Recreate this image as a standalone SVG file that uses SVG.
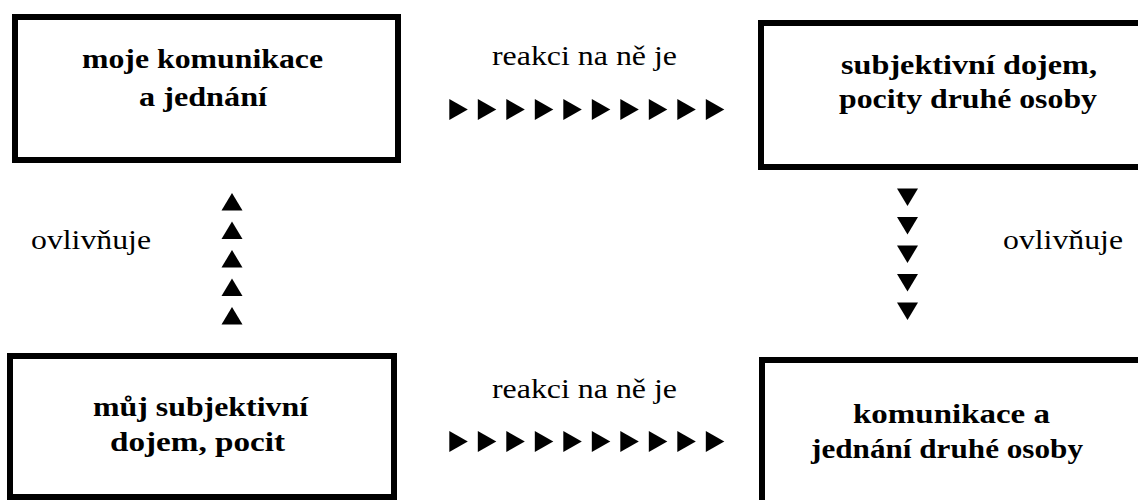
<svg xmlns="http://www.w3.org/2000/svg" xmlns:xlink="http://www.w3.org/1999/xlink" width="1138" height="500" viewBox="0 0 1138 500">
<style>
.box{fill:#fff;stroke:#000;stroke-width:6}
.t{font-family:"Liberation Serif","Times New Roman",serif;font-size:28px;font-weight:bold;fill:#000}
.l{font-family:"Liberation Serif","Times New Roman",serif;font-size:28px;fill:#000}
.tri{fill:#000}
</style>
<defs>
<path id="ar" d="M0,-10.5 L18.5,0 L0,10.5 Z"/>
<path id="au" d="M-10.5,0 L0,-17.5 L10.5,0 Z"/>
<path id="ad" d="M-10.5,0 L0,17.5 L10.5,0 Z"/>
</defs>
<rect width="1138" height="500" fill="#fff"/>
<g id="node-moje">
<rect class="box" x="15" y="17" width="383" height="143"/>
<text class="t" x="82" y="68" textLength="241" lengthAdjust="spacingAndGlyphs">moje komunikace</text>
<text class="t" x="139" y="106" textLength="128" lengthAdjust="spacingAndGlyphs">a jednání</text>
</g>
<g id="node-subjektivni">
<rect class="box" x="761" y="23" width="400" height="144"/>
<text class="t" x="841" y="74" textLength="256" lengthAdjust="spacingAndGlyphs">subjektivní dojem,</text>
<text class="t" x="839" y="108" textLength="258" lengthAdjust="spacingAndGlyphs">pocity druhé osoby</text>
</g>
<g id="node-muj">
<rect class="box" x="10" y="356" width="384" height="141"/>
<text class="t" x="93" y="416" textLength="215" lengthAdjust="spacingAndGlyphs">můj subjektivní</text>
<text class="t" x="110" y="451" textLength="175" lengthAdjust="spacingAndGlyphs">dojem, pocit</text>
</g>
<g id="node-komunikace">
<rect class="box" x="762" y="360" width="400" height="200"/>
<text class="t" x="853" y="423" textLength="197" lengthAdjust="spacingAndGlyphs">komunikace a</text>
<text class="t" x="811" y="458" textLength="272" lengthAdjust="spacingAndGlyphs">jednání druhé osoby</text>
</g>
<g id="connectors">
<g id="top-arrows" class="tri">
<use xlink:href="#ar" x="449.3" y="109.5"/>
<use xlink:href="#ar" x="477.8" y="109.5"/>
<use xlink:href="#ar" x="506.3" y="109.5"/>
<use xlink:href="#ar" x="534.8" y="109.5"/>
<use xlink:href="#ar" x="563.3" y="109.5"/>
<use xlink:href="#ar" x="591.8" y="109.5"/>
<use xlink:href="#ar" x="620.3" y="109.5"/>
<use xlink:href="#ar" x="648.8" y="109.5"/>
<use xlink:href="#ar" x="677.3" y="109.5"/>
<use xlink:href="#ar" x="705.8" y="109.5"/>
</g>
<text class="l" x="492" y="65" textLength="185" lengthAdjust="spacingAndGlyphs">reakci na ně je</text>
<g id="bottom-arrows" class="tri">
<use xlink:href="#ar" x="449.3" y="441.5"/>
<use xlink:href="#ar" x="477.8" y="441.5"/>
<use xlink:href="#ar" x="506.3" y="441.5"/>
<use xlink:href="#ar" x="534.8" y="441.5"/>
<use xlink:href="#ar" x="563.3" y="441.5"/>
<use xlink:href="#ar" x="591.8" y="441.5"/>
<use xlink:href="#ar" x="620.3" y="441.5"/>
<use xlink:href="#ar" x="648.8" y="441.5"/>
<use xlink:href="#ar" x="677.3" y="441.5"/>
<use xlink:href="#ar" x="705.8" y="441.5"/>
</g>
<text class="l" x="492" y="398" textLength="185" lengthAdjust="spacingAndGlyphs">reakci na ně je</text>
<g id="up-arrows" class="tri">
<use xlink:href="#au" x="232" y="210.5"/>
<use xlink:href="#au" x="232" y="239"/>
<use xlink:href="#au" x="232" y="267.5"/>
<use xlink:href="#au" x="232" y="296"/>
<use xlink:href="#au" x="232" y="324.5"/>
</g>
<text class="l" x="31" y="249" textLength="120" lengthAdjust="spacingAndGlyphs">ovlivňuje</text>
<g id="down-arrows" class="tri">
<use xlink:href="#ad" x="907.5" y="188.5"/>
<use xlink:href="#ad" x="907.5" y="217"/>
<use xlink:href="#ad" x="907.5" y="245.5"/>
<use xlink:href="#ad" x="907.5" y="274"/>
<use xlink:href="#ad" x="907.5" y="302.5"/>
</g>
<text class="l" x="1003" y="249" textLength="120" lengthAdjust="spacingAndGlyphs">ovlivňuje</text>
</g>
</svg>
